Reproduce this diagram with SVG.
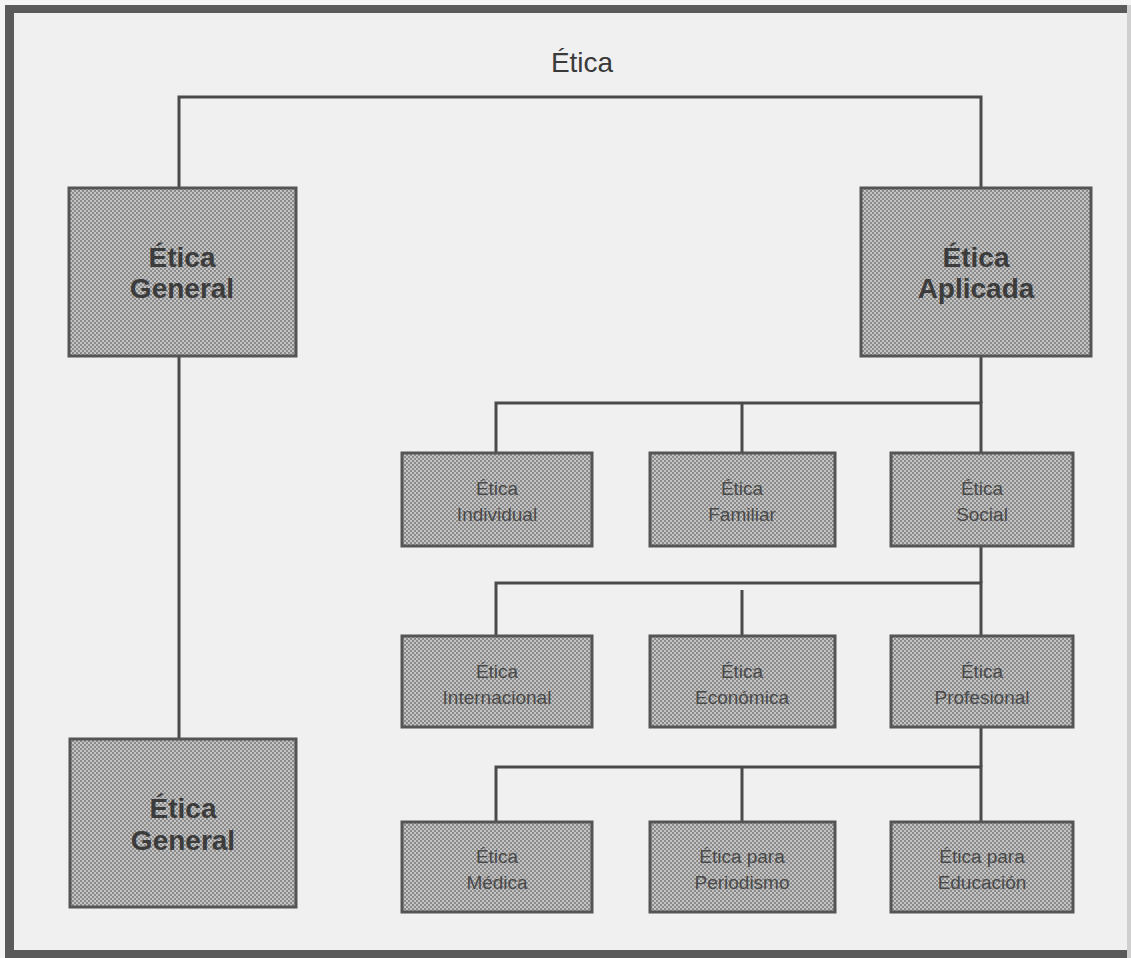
<svg xmlns="http://www.w3.org/2000/svg" width="1131" height="958" viewBox="0 0 1131 958">
<defs>
<pattern id="dots" width="4" height="4" patternUnits="userSpaceOnUse">
<rect width="4" height="4" fill="#c4c4c4"/>
<rect x="0" y="0" width="2" height="2" fill="#8a8a8a"/>
<rect x="2" y="2" width="2" height="2" fill="#8a8a8a"/>
</pattern>
</defs>
<style>
.box{fill:url(#dots);stroke:#555;stroke-width:3}
.line{stroke:#4a4a4a;stroke-width:3;fill:none}
.big{font-family:"Liberation Sans",Arial,sans-serif;font-size:28px;font-weight:bold;fill:#3c3c3c;text-anchor:middle}
.small{font-family:"Liberation Sans",Arial,sans-serif;font-size:19px;fill:#4a4a4a;text-anchor:middle}
.title{font-family:"Liberation Sans",Arial,sans-serif;font-size:28px;fill:#3a3a3a;text-anchor:middle}
</style>
<rect x="0" y="0" width="1131" height="958" fill="#f4f4f4"/>
<rect x="5" y="5" width="1126" height="953" fill="#f0f0f0"/>
<rect x="5" y="5" width="1126" height="8" fill="#5a5a5a"/>
<rect x="5" y="5" width="9" height="953" fill="#5a5a5a"/>
<rect x="5" y="950" width="1126" height="8" fill="#5a5a5a"/>
<rect x="1127" y="5" width="4" height="953" fill="#cfcfcf"/>
<text class="title" x="582" y="72">Ética</text>
<g id="connectors">
<polyline class="line" points="179,188 179,97 981,97 981,188"/>
<line class="line" x1="179" y1="357" x2="179" y2="739"/>
<polyline class="line" points="981,357 981,403"/>
<polyline class="line" points="496,453 496,403 981,403 981,453"/>
<line class="line" x1="742" y1="403" x2="742" y2="453"/>
<polyline class="line" points="981,546 981,583"/>
<polyline class="line" points="496,636 496,583 981,583 981,636"/>
<line class="line" x1="742" y1="590" x2="742" y2="636"/>
<polyline class="line" points="981,727 981,767"/>
<polyline class="line" points="496,822 496,767 981,767 981,822"/>
<line class="line" x1="742" y1="767" x2="742" y2="822"/>
</g>
<g id="etica-general">
<rect class="box" x="69" y="188" width="227" height="168"/>
<text class="big" x="182" y="267">Ética</text>
<text class="big" x="182" y="298">General</text>
</g>
<g id="etica-aplicada">
<rect class="box" x="861" y="188" width="230" height="168"/>
<text class="big" x="976" y="267">Ética</text>
<text class="big" x="976" y="298">Aplicada</text>
</g>
<g id="etica-general-2">
<rect class="box" x="70" y="739" width="226" height="168"/>
<text class="big" x="183" y="818">Ética</text>
<text class="big" x="183" y="850">General</text>
</g>
<g id="etica-individual">
<rect class="box" x="402" y="453" width="190" height="93"/>
<text class="small" x="497" y="495">Ética</text>
<text class="small" x="497" y="521">Individual</text>
</g>
<g id="etica-familiar">
<rect class="box" x="650" y="453" width="185" height="93"/>
<text class="small" x="742" y="495">Ética</text>
<text class="small" x="742" y="521">Familiar</text>
</g>
<g id="etica-social">
<rect class="box" x="891" y="453" width="182" height="93"/>
<text class="small" x="982" y="495">Ética</text>
<text class="small" x="982" y="521">Social</text>
</g>
<g id="etica-internacional">
<rect class="box" x="402" y="636" width="190" height="91"/>
<text class="small" x="497" y="678">Ética</text>
<text class="small" x="497" y="704">Internacional</text>
</g>
<g id="etica-economica">
<rect class="box" x="650" y="636" width="185" height="91"/>
<text class="small" x="742" y="678">Ética</text>
<text class="small" x="742" y="704">Económica</text>
</g>
<g id="etica-profesional">
<rect class="box" x="891" y="636" width="182" height="91"/>
<text class="small" x="982" y="678">Ética</text>
<text class="small" x="982" y="704">Profesional</text>
</g>
<g id="etica-medica">
<rect class="box" x="402" y="822" width="190" height="90"/>
<text class="small" x="497" y="863">Ética</text>
<text class="small" x="497" y="889">Médica</text>
</g>
<g id="etica-periodismo">
<rect class="box" x="650" y="822" width="185" height="90"/>
<text class="small" x="742" y="863">Ética para</text>
<text class="small" x="742" y="889">Periodismo</text>
</g>
<g id="etica-educacion">
<rect class="box" x="891" y="822" width="182" height="90"/>
<text class="small" x="982" y="863">Ética para</text>
<text class="small" x="982" y="889">Educación</text>
</g>
</svg>
